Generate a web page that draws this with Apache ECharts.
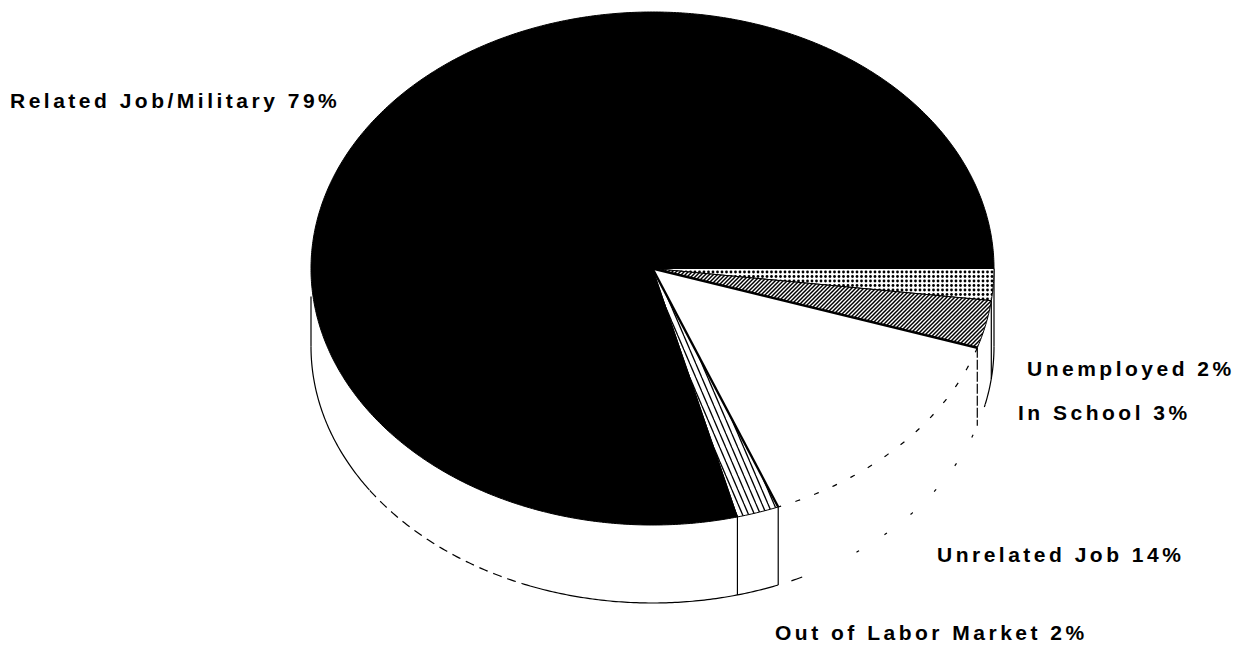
<!DOCTYPE html>
<html><head><meta charset="utf-8">
<style>
html,body{margin:0;padding:0;background:#fff}
#c{width:1240px;height:645px}
#c svg text{letter-spacing:3.5px}
</style>
<script src="https://cdn.jsdelivr.net/npm/echarts@6/dist/echarts.min.js"></script>
</head><body><div id="c"></div>
<script>
// ---- data ----
const categories = ['Unemployed', 'In School', 'Unrelated Job', 'Out of Labor Market', 'Related Job/Military'];
const values = [2, 3, 14, 2, 79];

// ---- layout ----
const CX = 652.5, CY = 268.5, RX = 341.5, RY = 256.5, DEPTH = 78;
const labelAnchors = [[1027, 368], [1018, 412], [937, 554], [775, 632], [10, 100]];
// stroke style of each visible piece of the wall's lower rim and of the top rim (degrees clockwise from east)
const lowerRim = [[0, 13, null], [13, 58, [3, 30]], [64, 66, null], [68.4, 111, null], [111, 146, [9, 6]], [146, 180, null]];
const topRimDash = [[18, 68.4, [5, 15]]];

const total = values.reduce((a, b) => a + b, 0);
const starts = [];
values.reduce((acc, v, i) => (starts[i] = acc, acc + v), 0);
const deg = v => v / total * 360;
const pt = (a, dy = 0) => {
  const r = a * Math.PI / 180;
  return [CX + RX * Math.cos(r), CY + dy + RY * Math.sin(r)];
};
const arc = (a0, a1, dy = 0) => {
  const n = Math.max(2, Math.ceil(Math.abs(a1 - a0) * 2)), out = [];
  for (let i = 0; i <= n; i++) out.push(pt(a0 + (a1 - a0) * i / n, dy));
  return out;
};
const patternTile = (draw, w, h) => {
  const c = document.createElement('canvas');
  c.width = w; c.height = h;
  draw(c.getContext('2d'), w, h);
  return { image: c, repeat: 'repeat' };
};
const dots = patternTile((g) => {
  g.fillStyle = '#fff'; g.fillRect(0, 0, 9, 9);
  g.fillStyle = '#000';
  [[2, 2], [6.5, 2], [2, 6.5], [6.5, 6.5]].forEach(([x, y]) => { g.beginPath(); g.arc(x, y, 1.4, 0, 7); g.fill(); });
}, 9, 9);
const hatch = patternTile((g) => {
  g.fillStyle = '#fff'; g.fillRect(0, 0, 4, 4);
  g.strokeStyle = '#000'; g.lineWidth = 1.5;
  [[-1, 1, 1, -1], [0, 4, 4, 0], [3, 5, 5, 3]].forEach(([a, b, c, d]) => { g.beginPath(); g.moveTo(a, b); g.lineTo(c, d); g.stroke(); });
}, 4, 4);
const stripes = patternTile((g) => {
  g.fillStyle = '#fff'; g.fillRect(0, 0, 6, 14);
  g.strokeStyle = '#000'; g.lineWidth = 1.3;
  [[0, 0, 6, 14], [-6, 0, 0, 14], [6, 0, 12, 14]].forEach(([a, b, c, d]) => { g.beginPath(); g.moveTo(a, b); g.lineTo(c, d); g.stroke(); });
}, 6, 14);
const fills = [dots, hatch, '#fff', stripes, '#000'];

const line = (points, w, dash) => ({
  type: 'polyline', shape: { points }, silent: true,
  style: { fill: null, stroke: '#000', lineWidth: w, lineDash: dash || null }
});

function wall() {
  const kids = [];
  lowerRim.forEach(([a, b, d]) => kids.push(line(arc(a, b, DEPTH), 1.2, d)));
  // outer right and left wall edges
  kids.push(line([pt(0), pt(0, DEPTH)], 1.2));
  kids.push(line([[CX - RX, CY + 28], pt(180, DEPTH)], 1.2));
  // verticals under slice boundaries
  values.slice(0, 4).forEach((v, i) => {
    const a = deg(starts[i] + v);
    kids.push(line([pt(a), pt(a, DEPTH)], 1.2, i === 1 ? [10, 2] : null));
  });
  return { type: 'group', children: kids };
}

function slice(params, api) {
  const i = api.value(0);
  const a0 = deg(api.value(1)), a1 = a0 + deg(api.value(2));
  const kids = [];
  const open = i === 2;
  kids.push({
    type: 'polygon',
    shape: { points: [[CX, CY]].concat(arc(a0, a1)) },
    style: { fill: fills[i], stroke: open ? null : '#000', lineWidth: 1 }
  });
  if (i === 3) {
    // heavy radial edge of the narrow slice
    kids.push(line([[CX, CY], pt(a0)], 2.4));
  }
  if (i === 2) {
    kids.push(line([[CX, CY], pt(a0)], 2.4));
    topRimDash.forEach(([a, b, d]) => kids.push(line(arc(a, b), 1.2, d)));
  }
  const [lx, ly] = labelAnchors[i];
  kids.push({
    type: 'text', silent: true,
    style: {
      x: lx, y: ly, text: categories[i] + ' ' + values[i] + '%',
      fill: '#000', font: '600 21px "Liberation Sans", Arial, sans-serif',
      align: 'left', verticalAlign: 'middle'
    }
  });
  return { type: 'group', children: kids };
}

const chart = echarts.init(document.getElementById('c'), null, { renderer: 'svg', width: 1240, height: 645 });
chart.setOption({
  animation: false,
  backgroundColor: '#fff',
  series: [
    { type: 'custom', coordinateSystem: 'none', silent: true, data: [[0]], renderItem: wall },
    {
      type: 'custom', coordinateSystem: 'none', silent: true,
      encode: { itemName: 3 },
      data: values.map((v, i) => [i, starts[i], v, categories[i]]),
      renderItem: slice
    }
  ]
});
</script></body></html>
